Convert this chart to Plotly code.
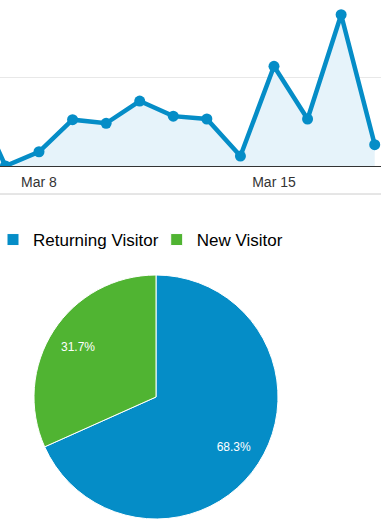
import plotly.graph_objects as go

# ---- data ----
dates = ["2014-03-06", "2014-03-07", "2014-03-08", "2014-03-09", "2014-03-10",
         "2014-03-11", "2014-03-12", "2014-03-13", "2014-03-14", "2014-03-15",
         "2014-03-16", "2014-03-17", "2014-03-18"]
visits = [42, 0, 8, 26, 24, 36.5, 28, 26.4, 5.6, 56, 26.4, 85, 12]
tick_vals = ["2014-03-08", "2014-03-15"]
tick_text = ["Mar 8", "Mar 15"]
grid_vals = [50]

segments = ["Returning Visitor", "New Visitor"]
shares = [68.3, 31.7]

BLUE = "#058dc7"
GREEN = "#50b432"
W, H = 381, 528
pie_domain = dict(x=[34 / W, 278 / W], y=[1 - 519 / H, 1 - 275 / H])

fig = go.Figure()
fig.add_trace(go.Scatter(
    x=dates, y=visits, mode="lines+markers",
    line=dict(color=BLUE, width=4.5),
    marker=dict(color=BLUE, size=11),
    fill="tozeroy", fillcolor="#e6f3fa",
    showlegend=False, hoverinfo="skip",
))
# the visible pie (no text)
fig.add_trace(go.Pie(
    labels=segments, values=shares, sort=False, direction="clockwise", rotation=0,
    marker=dict(colors=[BLUE, GREEN], line=dict(color="white", width=1)),
    textinfo="none", showlegend=True, domain=pie_domain, hoverinfo="skip",
))
# invisible ring on top carrying the percentage labels
fig.add_trace(go.Pie(
    labels=segments, values=shares, sort=False, direction="clockwise", rotation=0,
    hole=0.52,
    marker=dict(colors=["rgba(0,0,0,0)", "rgba(0,0,0,0)"], line=dict(width=0)),
    texttemplate="%{percent:.1%}", textposition="inside",
    insidetextorientation="horizontal",
    textfont=dict(color="white", size=12, family="Liberation Sans, Arial"),
    domain=pie_domain, hoverinfo="skip", showlegend=False,
))

fig.update_layout(
    width=W, height=H, margin=dict(l=0, r=0, t=0, b=0, autoexpand=False),
    paper_bgcolor="white", plot_bgcolor="white",
    font=dict(family="Liberation Sans, Arial", color="#333"),
    xaxis=dict(type="date", range=["2014-03-06 20:07", "2014-03-18 04:30"],
               tickvals=tick_vals, ticktext=tick_text,
               showgrid=False, zeroline=False,
               showline=True, linecolor="#333", linewidth=1,
               ticks="outside", ticklen=3, tickcolor="rgba(0,0,0,0)",
               tickfont=dict(size=14, color="#333")),
    yaxis=dict(domain=[1 - 166 / H, 1], range=[0, 50 * 166 / 89],
               tickvals=grid_vals, showticklabels=False,
               showgrid=True, gridcolor="#e8e8e8", zeroline=False),
    showlegend=True,
    legend=dict(orientation="h", x=0, xanchor="left", y=1 - 222 / H, yanchor="top",
                indentation=-7,
                font=dict(size=17, color="black", family="Liberation Sans, Arial"),
                itemclick=False, itemdoubleclick=False),
    shapes=[dict(type="line", xref="paper", yref="paper", x0=0, x1=1,
                 y0=1 - 194 / H, y1=1 - 194 / H, line=dict(color="#cccccc", width=1))],
)

fig.write_html("out.html")
